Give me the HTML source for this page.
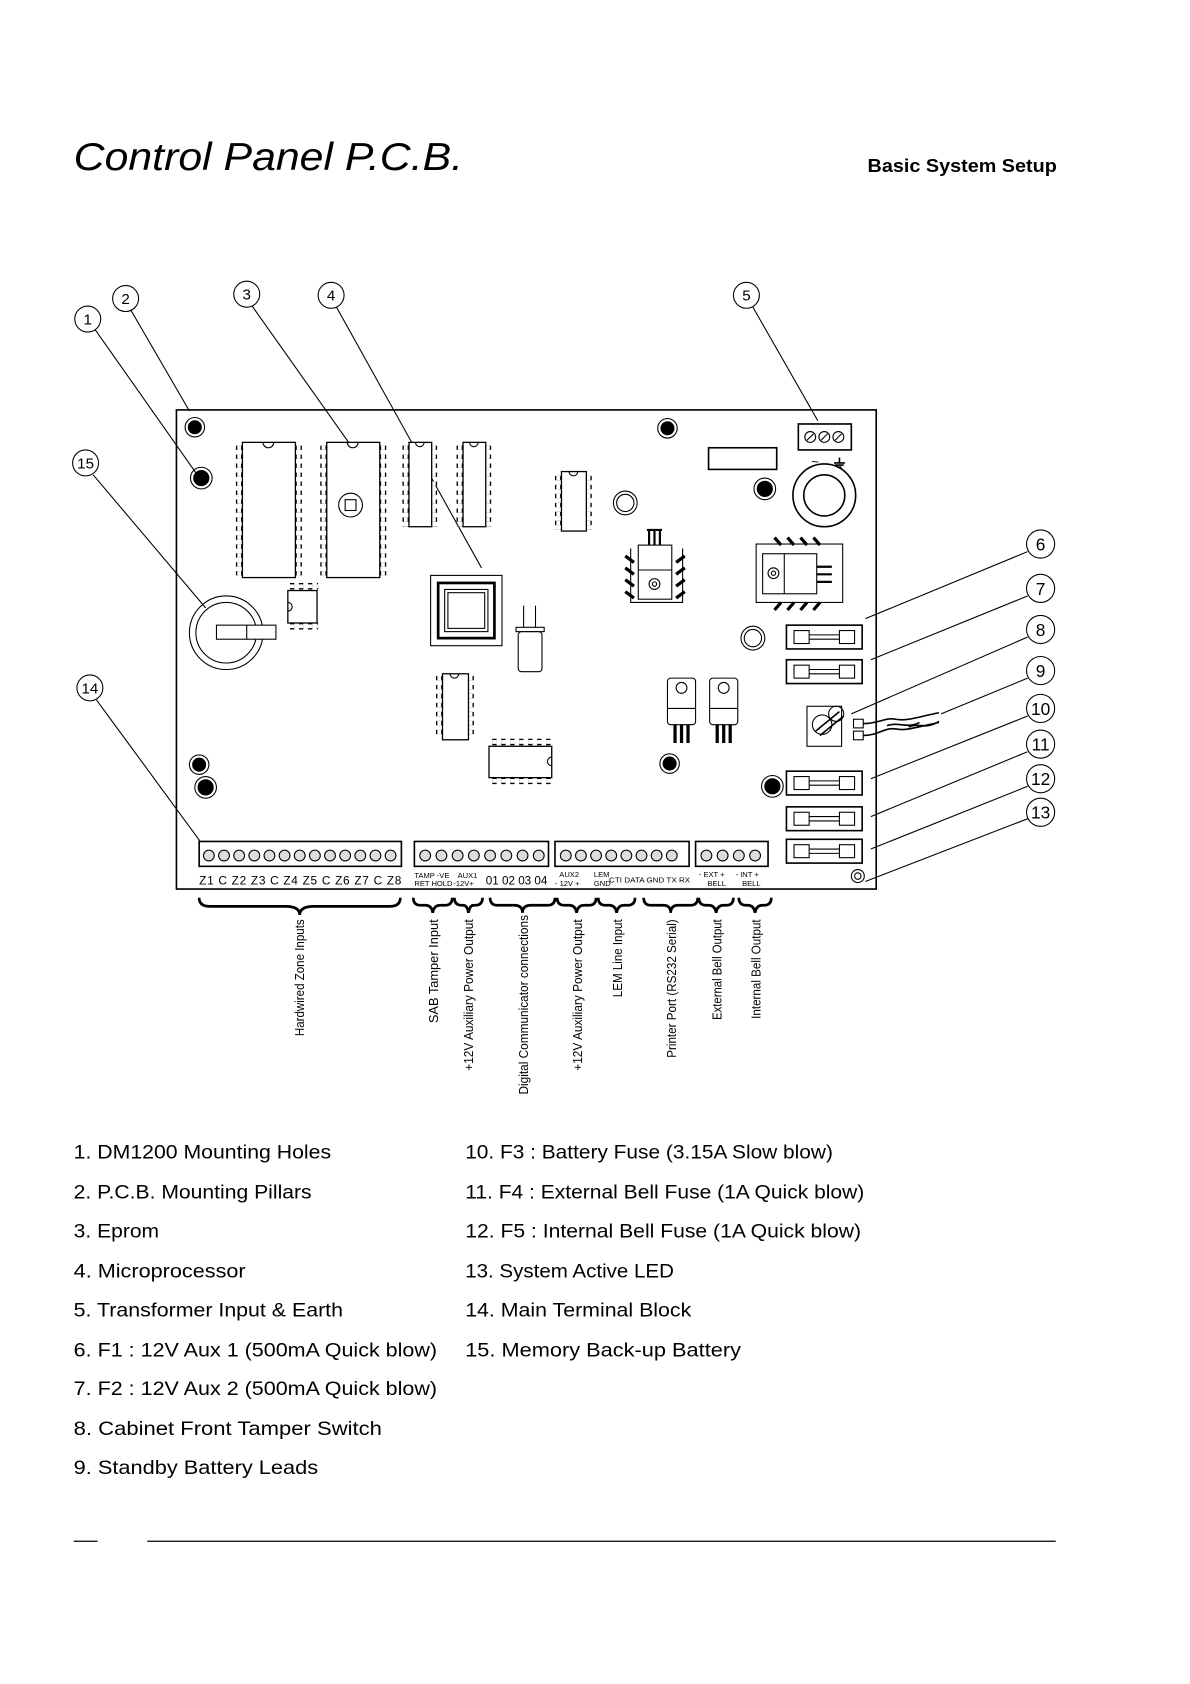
<!DOCTYPE html>
<html><head><meta charset="utf-8"><style>
html,body{margin:0;padding:0;background:#fff}
svg{display:block}
text{font-family:"Liberation Sans",sans-serif;fill:#000}
</style></head><body>
<svg width="1190" height="1684" viewBox="0 0 1100 1557" xmlns="http://www.w3.org/2000/svg">
<rect width="1100" height="1557" fill="#fff"/>
<text x="68" y="157" font-size="36" font-style="italic" textLength="360" lengthAdjust="spacingAndGlyphs">Control Panel P.C.B.</text>
<text x="802" y="159" font-size="17" font-weight="bold" textLength="175" lengthAdjust="spacingAndGlyphs">Basic System Setup</text>

<g fill="none" stroke="#000" stroke-width="1">
<!-- leader lines -->
<line x1="88" y1="305" x2="183" y2="440"/>
<line x1="121" y1="287" x2="175" y2="380"/>
<line x1="233" y1="283" x2="330" y2="420"/>
<line x1="311" y1="284" x2="445" y2="525"/>
<line x1="696" y1="284" x2="756" y2="389"/>
<line x1="86" y1="439" x2="190" y2="562"/>
<line x1="89" y1="647" x2="185" y2="778"/>
<line x1="950" y1="510" x2="800" y2="572"/>
<line x1="950" y1="551" x2="805" y2="610"/>
<line x1="950" y1="589" x2="787" y2="660"/>
<line x1="950" y1="627" x2="870" y2="660"/>
<line x1="950" y1="662" x2="805" y2="720"/>
<line x1="950" y1="695" x2="805" y2="755"/>
<line x1="950" y1="727" x2="805" y2="785"/>
<line x1="950" y1="757" x2="800" y2="815"/>
<!-- callout circles -->
<circle cx="81" cy="295" r="12"/><circle cx="116" cy="276" r="12"/><circle cx="228" cy="272" r="12"/><circle cx="306" cy="273" r="12"/><circle cx="690" cy="273" r="12"/><circle cx="79" cy="428" r="12"/><circle cx="83" cy="636" r="12"/>
<circle cx="962" cy="503" r="13"/><circle cx="962" cy="544" r="13"/><circle cx="962" cy="582" r="13"/><circle cx="962" cy="620" r="13"/><circle cx="962" cy="655" r="13"/><circle cx="962" cy="688" r="13"/><circle cx="962" cy="720" r="13"/><circle cx="962" cy="751" r="13"/>
<!-- board -->
<rect x="163" y="379" width="647" height="443" stroke-width="1.5"/>
</g>
<g font-size="14" text-anchor="middle">
<text x="81" y="300">1</text><text x="116" y="281">2</text><text x="228" y="277">3</text><text x="306" y="278">4</text><text x="690" y="278">5</text><text x="79" y="433">15</text><text x="83" y="641">14</text>
<text x="962" y="509" font-size="16">6</text><text x="962" y="550" font-size="16">7</text><text x="962" y="588" font-size="16">8</text><text x="962" y="626" font-size="16">9</text><text x="962" y="661" font-size="16">10</text><text x="962" y="694" font-size="16">11</text><text x="962" y="726" font-size="16">12</text><text x="962" y="757" font-size="16">13</text>
</g>

<!-- mounting holes -->
<g stroke="#000" stroke-width="1" fill="#000">
<circle cx="180" cy="395" r="6"/><circle cx="186" cy="442" r="7"/><circle cx="617" cy="396" r="6"/><circle cx="707" cy="452" r="7"/><circle cx="184" cy="707" r="6"/><circle cx="190" cy="728" r="7"/><circle cx="619" cy="706" r="6"/><circle cx="714" cy="727" r="7"/>
</g>
<g stroke="#000" stroke-width="1" fill="none">
<circle cx="180" cy="395" r="9"/><circle cx="186" cy="442" r="10"/><circle cx="617" cy="396" r="9"/><circle cx="707" cy="452" r="10"/><circle cx="184" cy="707" r="9"/><circle cx="190" cy="728" r="10"/><circle cx="619" cy="706" r="9"/><circle cx="714" cy="727" r="10"/>
</g>

<!-- ICs -->
<g fill="none" stroke="#000">
<g stroke-width="6" stroke-dasharray="4 4.3">
<line x1="221" y1="412" x2="221" y2="532"/><line x1="276" y1="412" x2="276" y2="532"/>
<line x1="299" y1="412" x2="299" y2="532"/><line x1="354" y1="412" x2="354" y2="532"/>
<line x1="375" y1="412" x2="375" y2="487"/><line x1="401" y1="412" x2="401" y2="487"/>
<line x1="425" y1="412" x2="425" y2="487"/><line x1="451" y1="412" x2="451" y2="487"/>
<line x1="516" y1="440" x2="516" y2="490"/><line x1="544" y1="440" x2="544" y2="490"/>
<line x1="406" y1="625" x2="406" y2="683"/><line x1="435" y1="625" x2="435" y2="683"/>
<line x1="268" y1="542" x2="294" y2="542"/><line x1="268" y1="579" x2="294" y2="579"/>
<line x1="455" y1="686" x2="510" y2="686"/><line x1="455" y1="722" x2="510" y2="722"/>
</g>
<g stroke="#fff" stroke-width="3.5" stroke-dasharray="4 4.3">
<line x1="221" y1="412" x2="221" y2="532"/><line x1="276" y1="412" x2="276" y2="532"/>
<line x1="299" y1="412" x2="299" y2="532"/><line x1="354" y1="412" x2="354" y2="532"/>
<line x1="375" y1="412" x2="375" y2="487"/><line x1="401" y1="412" x2="401" y2="487"/>
<line x1="425" y1="412" x2="425" y2="487"/><line x1="451" y1="412" x2="451" y2="487"/>
<line x1="516" y1="440" x2="516" y2="490"/><line x1="544" y1="440" x2="544" y2="490"/>
<line x1="406" y1="625" x2="406" y2="683"/><line x1="435" y1="625" x2="435" y2="683"/>
<line x1="268" y1="542" x2="294" y2="542"/><line x1="268" y1="579" x2="294" y2="579"/>
<line x1="455" y1="686" x2="510" y2="686"/><line x1="455" y1="722" x2="510" y2="722"/>
</g>
<g stroke-width="1.2" fill="#fff">
<rect x="224" y="409" width="49" height="125"/><rect x="302" y="409" width="49" height="125"/>
<rect x="378" y="409" width="21" height="78"/><rect x="428" y="409" width="21" height="78"/>
<rect x="519" y="436" width="23" height="55"/><rect x="409" y="623" width="24" height="61"/>
<rect x="266" y="546" width="27" height="30"/><rect x="452" y="690" width="58" height="29"/>
</g>
<path d="M243 409a5 5 0 0 0 10 0M321 409a5 5 0 0 0 10 0M384 409a4 4 0 0 0 8 0M434 409a4 4 0 0 0 8 0M526 436a4 4 0 0 0 8 0M416 623a4 4 0 0 0 8 0M266 557a4 4 0 0 1 0 8M510 700a4 4 0 0 0 0 8"/>
<circle cx="324" cy="467" r="11"/><rect x="319" y="462" width="10" height="10"/>
<!-- CPU -->
<rect x="398" y="532" width="66" height="65"/>
<rect x="405" y="539" width="52" height="51" stroke-width="2.5"/>
<rect x="411" y="545" width="40" height="39"/>
<rect x="414" y="548" width="34" height="33"/>
<!-- crystal -->
<line x1="484" y1="560" x2="484" y2="580"/><line x1="495" y1="560" x2="495" y2="580"/>
<rect x="477" y="580" width="26" height="4"/>
<rect x="479" y="584" width="22" height="37" rx="3"/>
<!-- battery -->
<circle cx="209" cy="585" r="34"/><circle cx="209" cy="585" r="28"/>
<rect x="200" y="578" width="55" height="13" fill="#fff"/><line x1="228" y1="578" x2="228" y2="591"/>
<!-- small rings -->
<circle cx="578" cy="465" r="11"/><circle cx="578" cy="465" r="8"/>
<circle cx="696" cy="590" r="11"/><circle cx="696" cy="590" r="8"/>
<!-- rect top -->
<rect x="655" y="414" width="63" height="20" stroke-width="1.5"/>
<!-- transformer terminal -->
<rect x="738" y="392" width="49" height="24" stroke-width="1.5"/>
<circle cx="749" cy="404" r="5"/><circle cx="762" cy="404" r="5"/><circle cx="775" cy="404" r="5"/>
<line x1="746" y1="407" x2="752" y2="401"/><line x1="759" y1="407" x2="765" y2="401"/><line x1="772" y1="407" x2="778" y2="401"/>
<text x="750" y="431" font-size="12" stroke="none">~</text>
<path d="M776 423v5M771 428h10M772 430h8M774 432h4" stroke-width="1.5"/>
<circle cx="762" cy="458" r="29" stroke-width="1.5"/><circle cx="762" cy="458" r="19" stroke-width="1.5"/>
<!-- vertical regulator with heatsink -->
<path d="M600 490v15M605 490v15M610 490v15M598 490h14" stroke-width="2"/>
<rect x="590" y="504" width="31" height="50" fill="#fff"/>
<line x1="590" y1="527" x2="621" y2="527"/>
<circle cx="605" cy="540" r="5"/><circle cx="605" cy="540" r="2"/>
<path d="M578 514l8 6M578 525l8 6M578 536l8 6M578 547l8 6M633 514l-8 6M633 525l-8 6M633 536l-8 6M633 547l-8 6" stroke-width="3"/>
<path d="M583 507v50h48v-50"/>
<!-- horizontal regulator -->
<rect x="699" y="503" width="80" height="54"/>
<rect x="705" y="512" width="50" height="37" fill="#fff"/><line x1="725" y1="512" x2="725" y2="549"/>
<circle cx="715" cy="530" r="5"/><circle cx="715" cy="530" r="2"/>
<path d="M755 524h14M755 531h14M755 538h14" stroke-width="2"/>
<path d="M716 497l6 7M728 497l6 7M740 497l6 7M752 497l6 7M716 564l6-7M728 564l6-7M740 564l6-7M752 564l6-7" stroke-width="3"/>
<!-- TO220 regulators -->
<rect x="617" y="627" width="26" height="43" rx="3"/><circle cx="630" cy="636" r="5"/><line x1="617" y1="655" x2="643" y2="655"/>
<path d="M624 670v17M630 670v17M636 670v17" stroke-width="3"/>
<rect x="656" y="627" width="26" height="43" rx="3"/><circle cx="669" cy="636" r="5"/><line x1="656" y1="655" x2="682" y2="655"/>
<path d="M663 670v17M669 670v17M675 670v17" stroke-width="3"/>
<!-- fuses -->
<g id="fu">
<rect x="727" y="578" width="70" height="22" stroke-width="1.5"/>
<rect x="734" y="583" width="14" height="12"/><rect x="776" y="583" width="14" height="12"/>
<line x1="748" y1="587" x2="776" y2="587"/><line x1="748" y1="591" x2="776" y2="591"/>
</g>
<use href="#fu" y="32"/><use href="#fu" y="135"/><use href="#fu" y="168"/><use href="#fu" y="198"/>
<!-- tamper switch -->
<rect x="746" y="653" width="32" height="37"/>
<circle cx="760" cy="670" r="9"/><circle cx="773" cy="660" r="7"/>
<path d="M754 676l22-18M758 680l22-18" stroke-width="1.5"/>
<rect x="789" y="665" width="9" height="8"/><rect x="789" y="676" width="9" height="8"/>
<path d="M798 669c15 0 20-6 30-4s20 -2 40-6M798 680c15 0 20-8 30-6s20 -2 40-6M820 671c10-4 20 3 30-3M840 672c10-4 15 3 28-5" stroke-width="1.5"/>
<!-- LED -->
<circle cx="793" cy="810" r="6"/><circle cx="793" cy="810" r="3"/>
<!-- terminal blocks -->
<rect x="184" y="778" width="187" height="23" stroke-width="1.5"/>
<rect x="383" y="778" width="124" height="23" stroke-width="1.5"/>
<rect x="513" y="778" width="124" height="23" stroke-width="1.5"/>
<rect x="643" y="778" width="67" height="23" stroke-width="1.5"/>
</g>
<g fill="#ddd" stroke="#000" stroke-width="1">
<circle cx="193" cy="791" r="5"/><circle cx="207" cy="791" r="5"/><circle cx="221" cy="791" r="5"/><circle cx="235" cy="791" r="5"/><circle cx="249" cy="791" r="5"/><circle cx="263" cy="791" r="5"/><circle cx="277" cy="791" r="5"/><circle cx="291" cy="791" r="5"/><circle cx="305" cy="791" r="5"/><circle cx="319" cy="791" r="5"/><circle cx="333" cy="791" r="5"/><circle cx="347" cy="791" r="5"/><circle cx="361" cy="791" r="5"/>
<circle cx="393" cy="791" r="5"/><circle cx="408" cy="791" r="5"/><circle cx="423" cy="791" r="5"/><circle cx="438" cy="791" r="5"/><circle cx="453" cy="791" r="5"/><circle cx="468" cy="791" r="5"/><circle cx="483" cy="791" r="5"/><circle cx="498" cy="791" r="5"/>
<circle cx="523" cy="791" r="5"/><circle cx="537" cy="791" r="5"/><circle cx="551" cy="791" r="5"/><circle cx="565" cy="791" r="5"/><circle cx="579" cy="791" r="5"/><circle cx="593" cy="791" r="5"/><circle cx="607" cy="791" r="5"/><circle cx="621" cy="791" r="5"/><circle cx="635" cy="791" r="5" style="display:none"/>
<circle cx="653" cy="791" r="5"/><circle cx="668" cy="791" r="5"/><circle cx="683" cy="791" r="5"/><circle cx="698" cy="791" r="5"/>
</g>
<g font-size="11" textLength="10">
<text x="184" y="818" textLength="187" lengthAdjust="spacing" word-spacing="0">Z1  C  Z2  Z3  C  Z4  Z5  C  Z6  Z7  C  Z8</text>
<text x="449" y="818" font-size="11" textLength="57" lengthAdjust="spacingAndGlyphs">01 02 03 04</text>
<g font-size="7">
<text x="383" y="812">TAMP -VE</text><text x="383" y="819">RET  HOLD</text>
<text x="423" y="812">AUX1</text><text x="419" y="819">-12V+</text>
<text x="517" y="811">AUX2</text><text x="513" y="819">- 12V +</text>
<text x="549" y="811">LEM</text><text x="549" y="819">GND</text>
<text x="563" y="816" textLength="75" lengthAdjust="spacingAndGlyphs">CTI DATA GND  TX  RX</text>
<text x="646" y="811">- EXT +</text><text x="654" y="819">BELL</text>
<text x="680" y="811">- INT +</text><text x="686" y="819">BELL</text>
</g>
</g>
<!-- braces -->
<g fill="none" stroke="#000" stroke-width="2.5">
<path d="M184 830q0 8 10 8h70q13 0 13 8q0-8 13-8h70q10 0 10-8"/>
<path d="M382 830q0 7 7 7h4q6 0 7 7q1-7 7-7h4q7 0 7-7"/>
<path d="M420 830q0 7 7 7h1q4 0 5 7q1-7 5-7h1q7 0 7-7"/>
<path d="M453 830q0 7 7 7h15q8 0 8 7q0-7 8-7h15q7 0 7-7"/>
<path d="M515 830q0 7 7 7h4q6 0 7 7q1-7 7-7h4q7 0 7-7"/>
<path d="M553 830q0 7 7 7h3q6 0 7 7q1-7 7-7h3q7 0 7-7"/>
<path d="M595 830q0 7 7 7h11q7 0 7 7q0-7 7-7h11q7 0 7-7"/>
<path d="M646 830q0 7 7 7h2q6 0 7 7q1-7 7-7h2q7 0 7-7"/>
<path d="M683 830q0 7 7 7h1q6 0 7 7q1-7 7-7h1q7 0 7-7"/>
</g>
<!-- vertical labels -->
<g font-size="12" text-anchor="end">
<text transform="translate(281,850) rotate(-90)" textLength="108" lengthAdjust="spacingAndGlyphs">Hardwired Zone Inputs</text>
<text transform="translate(405,850) rotate(-90)" textLength="96" lengthAdjust="spacingAndGlyphs">SAB Tamper Input</text>
<text transform="translate(437,850) rotate(-90)" textLength="140" lengthAdjust="spacingAndGlyphs">+12V Auxiliary Power Output</text>
<text transform="translate(488,846) rotate(-90)" textLength="166" lengthAdjust="spacingAndGlyphs">Digital Communicator connections</text>
<text transform="translate(538,850) rotate(-90)" textLength="140" lengthAdjust="spacingAndGlyphs">+12V Auxiliary Power Output</text>
<text transform="translate(575,850) rotate(-90)" textLength="72" lengthAdjust="spacingAndGlyphs">LEM Line Input</text>
<text transform="translate(625,850) rotate(-90)" textLength="128" lengthAdjust="spacingAndGlyphs">Printer Port (RS232 Serial)</text>
<text transform="translate(667,850) rotate(-90)" textLength="93" lengthAdjust="spacingAndGlyphs">External Bell Output</text>
<text transform="translate(703,850) rotate(-90)" textLength="92" lengthAdjust="spacingAndGlyphs">Internal Bell Output</text>
</g>
<!-- legend -->
<g font-size="18">
<text x="68" y="1071" textLength="238" lengthAdjust="spacingAndGlyphs">1. DM1200 Mounting Holes</text>
<text x="68" y="1108" textLength="220" lengthAdjust="spacingAndGlyphs">2. P.C.B. Mounting Pillars</text>
<text x="68" y="1144" textLength="79" lengthAdjust="spacingAndGlyphs">3. Eprom</text>
<text x="68" y="1181" textLength="159" lengthAdjust="spacingAndGlyphs">4. Microprocessor</text>
<text x="68" y="1217" textLength="249" lengthAdjust="spacingAndGlyphs">5. Transformer Input &amp; Earth</text>
<text x="68" y="1254" textLength="336" lengthAdjust="spacingAndGlyphs">6. F1 : 12V Aux 1 (500mA Quick blow)</text>
<text x="68" y="1290" textLength="336" lengthAdjust="spacingAndGlyphs">7. F2 : 12V Aux 2 (500mA Quick blow)</text>
<text x="68" y="1327" textLength="285" lengthAdjust="spacingAndGlyphs">8. Cabinet Front Tamper Switch</text>
<text x="68" y="1363" textLength="226" lengthAdjust="spacingAndGlyphs">9. Standby Battery Leads</text>
<text x="430" y="1071" textLength="340" lengthAdjust="spacingAndGlyphs">10. F3 : Battery Fuse (3.15A Slow blow)</text>
<text x="430" y="1108" textLength="369" lengthAdjust="spacingAndGlyphs">11. F4 : External Bell Fuse (1A Quick blow)</text>
<text x="430" y="1144" textLength="366" lengthAdjust="spacingAndGlyphs">12. F5 : Internal Bell Fuse (1A Quick blow)</text>
<text x="430" y="1181" textLength="193" lengthAdjust="spacingAndGlyphs">13. System Active LED</text>
<text x="430" y="1217" textLength="209" lengthAdjust="spacingAndGlyphs">14. Main Terminal Block</text>
<text x="430" y="1254" textLength="255" lengthAdjust="spacingAndGlyphs">15. Memory Back-up Battery</text>
</g>
<g stroke="#000" stroke-width="1.2">
<line x1="68" y1="1425" x2="90" y2="1425"/>
<line x1="136" y1="1425" x2="976" y2="1425"/>
</g>
</svg>
</body></html>
